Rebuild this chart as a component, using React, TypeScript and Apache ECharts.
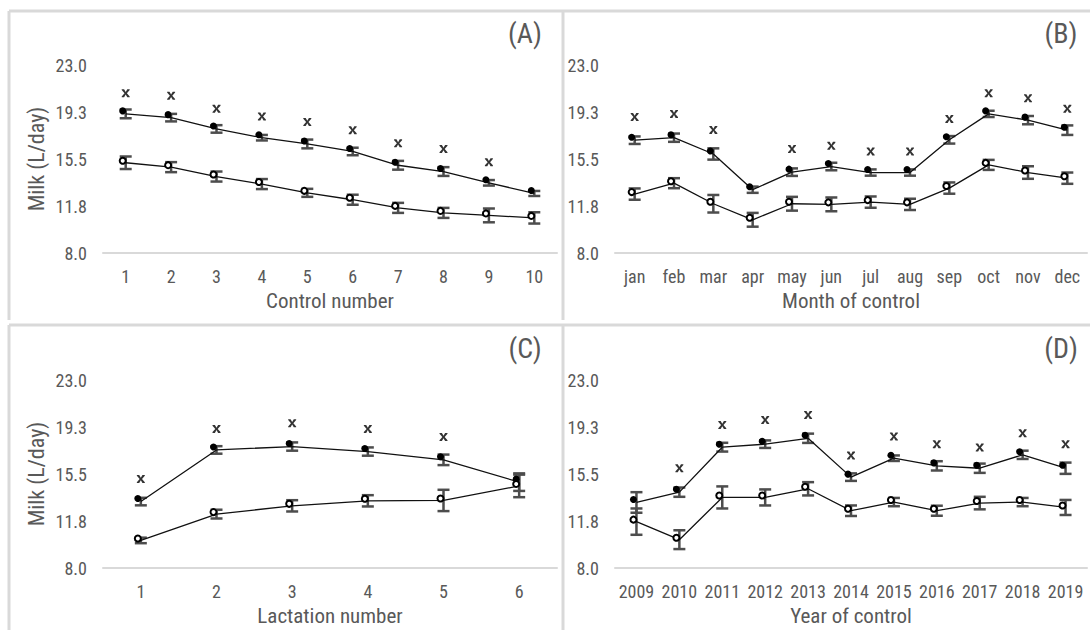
import React, { useEffect, useRef } from "react";
import * as echarts from "echarts";

// ---------- data ----------
const controlCats = ["1", "2", "3", "4", "5", "6", "7", "8", "9", "10"];
const aFilled = [19.1, 18.8, 17.9, 17.2, 16.7, 16.1, 15.0, 14.5, 13.6, 12.75];
const aFilledErr = [0.35, 0.3, 0.3, 0.22, 0.35, 0.3, 0.35, 0.35, 0.22, 0.2];
const aOpen = [15.2, 14.85, 14.1, 13.5, 12.8, 12.25, 11.6, 11.2, 11.0, 10.8];
const aOpenErr = [0.5, 0.4, 0.4, 0.4, 0.32, 0.4, 0.4, 0.4, 0.55, 0.45];
const aCross = [20.75, 20.55, 19.5, 18.9, 18.45, 17.8, 16.75, 16.3, 15.25, null];

const monthCats = ["jan", "feb", "mar", "apr", "may", "jun", "jul", "aug", "sep", "oct", "nov", "dec"];
const bFilled = [17.0, 17.2, 15.9, 13.05, 14.45, 14.9, 14.42, 14.42, 17.03, 19.1, 18.6, 17.8];
const bFilledErr = [0.3, 0.33, 0.45, 0.25, 0.3, 0.3, 0.25, 0.25, 0.3, 0.25, 0.33, 0.38];
const bOpen = [12.7, 13.57, 11.93, 10.65, 11.93, 11.88, 12.06, 11.88, 13.18, 15.03, 14.42, 13.97];
const bOpenErr = [0.45, 0.4, 0.7, 0.55, 0.55, 0.55, 0.45, 0.45, 0.45, 0.4, 0.5, 0.45];
const bCross = [18.85, 19.1, 17.82, null, 16.3, 16.55, 16.1, 16.1, 18.7, 20.75, 20.35, 19.5];

const lactCats = ["1", "2", "3", "4", "5", "6"];
const cFilled = [13.3, 17.42, 17.69, 17.29, 16.63, 14.85];
const cFilledErr = [0.3, 0.3, 0.33, 0.33, 0.42, 0.7];
const cOpen = [10.2, 12.3, 12.96, 13.36, 13.39, 14.55];
const cOpenErr = [0.22, 0.35, 0.45, 0.45, 0.85, 0.9];
const cCross = [15.1, 19.1, 19.55, 19.1, 18.45, null];

const yearCats = ["2009", "2010", "2011", "2012", "2013", "2014", "2015", "2016", "2017", "2018", "2019"];
const dFilled = [13.23, 14.05, 17.64, 17.88, 18.35, 15.25, 16.76, 16.15, 15.96, 17.03, 15.96];
const dFilledErr = [0.82, 0.37, 0.35, 0.3, 0.37, 0.3, 0.22, 0.37, 0.37, 0.33, 0.45];
const dOpen = [11.7, 10.26, 13.63, 13.63, 14.32, 12.57, 13.26, 12.57, 13.18, 13.26, 12.83];
const dOpenErr = [1.05, 0.75, 0.88, 0.64, 0.53, 0.42, 0.33, 0.4, 0.5, 0.33, 0.6];
const dCross = [null, 15.96, 19.41, 19.81, 20.21, 16.97, 18.49, 17.88, 17.61, 18.75, 17.88];

const yMin = 8;
const yMax = 23;
const yStep = 3.75;
const yTickLabels = ["8.0", "11.8", "15.5", "19.3", "23.0"];

const panelLabels = ["(A)", "(B)", "(C)", "(D)"];
const xTitles = ["Control number", "Month of control", "Lactation number", "Year of control"];
const yTitle = "Milk (L/day)";

// ---------- styling ----------
const FONT = '"Liberation Sans Narrow", "Roboto Condensed", "Arial Narrow", Roboto, sans-serif';
const TXT = "#595959";
const BORDER = "#d9d9d9";
const ERR = "#4d4d4d";
const crossPath =
  "path://M0,0H3L5,3.5L7,0H10V1L6.5,5L10,9V10H7L5,6.5L3,10H0V9L3.5,5L0,1Z";

const grids = [
  { left: 103, top: 65, width: 454, height: 188 },
  { left: 615, top: 65, width: 472, height: 188 },
  { left: 103, top: 380, width: 454, height: 188 },
  { left: 615, top: 380, width: 472, height: 188 },
];

const panels = [
  { cats: controlCats, f: aFilled, fe: aFilledErr, o: aOpen, oe: aOpenErr, x: aCross },
  { cats: monthCats, f: bFilled, fe: bFilledErr, o: bOpen, oe: bOpenErr, x: bCross },
  { cats: lactCats, f: cFilled, fe: cFilledErr, o: cOpen, oe: cOpenErr, x: cCross },
  { cats: yearCats, f: dFilled, fe: dFilledErr, o: dOpen, oe: dOpenErr, x: dCross },
];

function errRender(params: any, api: any) {
  const idx = api.value(0);
  const lo = api.coord([idx, api.value(1)]);
  const hi = api.coord([idx, api.value(2)]);
  const cx = lo[0];
  const hw = 6;
  const style = { stroke: ERR, lineWidth: 2.5 };
  return {
    type: "group",
    children: [
      { type: "line", shape: { x1: cx, y1: hi[1], x2: cx, y2: lo[1] }, style },
      { type: "line", shape: { x1: cx - hw, y1: hi[1], x2: cx + hw, y2: hi[1] }, style },
      { type: "line", shape: { x1: cx - hw, y1: lo[1], x2: cx + hw, y2: lo[1] }, style },
    ],
  };
}

function buildOption() {
  const xAxis: any[] = [];
  const yAxis: any[] = [];
  const series: any[] = [];
  panels.forEach((p, i) => {
    xAxis.push({
      type: "category",
      gridIndex: i,
      data: p.cats,
      boundaryGap: true,
      axisLine: { lineStyle: { color: BORDER, width: 2 } },
      axisTick: { show: false },
      axisLabel: { color: TXT, fontFamily: FONT, fontSize: 18, margin: 14, interval: 0 },
      name: xTitles[i],
      nameLocation: "middle",
      nameGap: 37,
      nameTextStyle: { color: TXT, fontFamily: FONT, fontSize: 21 },
    });
    yAxis.push({
      type: "value",
      gridIndex: i,
      min: yMin,
      max: yMax,
      interval: yStep,
      axisLine: { show: false },
      axisTick: { show: false },
      splitLine: { show: false },
      axisLabel: {
        color: TXT,
        fontFamily: FONT,
        fontSize: 18,
        margin: 16,
        formatter: (v: number) => yTickLabels[Math.round((v - yMin) / yStep)] ?? "",
      },
      name: i % 2 === 0 ? yTitle : "",
      nameLocation: "middle",
      nameRotate: 90,
      nameGap: 56,
      nameTextStyle: { color: TXT, fontFamily: FONT, fontSize: 22 },
    });
    series.push({
      type: "custom",
      xAxisIndex: i,
      yAxisIndex: i,
      renderItem: errRender,
      encode: { x: 0, y: [1, 2] },
      data: p.f.map((v, k) => [k, v - p.fe[k], v + p.fe[k]]),
      z: 1,
      silent: true,
    });
    series.push({
      type: "custom",
      xAxisIndex: i,
      yAxisIndex: i,
      renderItem: errRender,
      encode: { x: 0, y: [1, 2] },
      data: p.o.map((v, k) => [k, v - p.oe[k], v + p.oe[k]]),
      z: 1,
      silent: true,
    });
    series.push({
      type: "line",
      xAxisIndex: i,
      yAxisIndex: i,
      data: p.f,
      symbol: "circle",
      symbolSize: 7,
      symbolOffset: [-3, -3],
      lineStyle: { color: "#111", width: 1.3 },
      itemStyle: { color: "#000" },
      z: 3,
    });
    series.push({
      type: "line",
      xAxisIndex: i,
      yAxisIndex: i,
      data: p.o,
      symbol: "emptyCircle",
      symbolSize: 6,
      symbolOffset: [-3, -2],
      lineStyle: { color: "#111", width: 1.3 },
      itemStyle: { color: "#000", borderWidth: 1.2 },
      z: 3,
    });
    series.push({
      type: "scatter",
      xAxisIndex: i,
      yAxisIndex: i,
      data: p.x,
      symbol: crossPath,
      symbolSize: [8, 8],
      itemStyle: { color: "#000" },
      z: 3,
    });
  });

  const lineStyle = { stroke: BORDER, lineWidth: 3 };
  const graphic: any[] = [
    { type: "line", shape: { x1: 9, y1: 11, x2: 1090, y2: 11 }, style: lineStyle },
    { type: "line", shape: { x1: 9, y1: 11, x2: 9, y2: 320 }, style: lineStyle },
    { type: "line", shape: { x1: 563, y1: 11, x2: 563, y2: 320 }, style: lineStyle },
    { type: "line", shape: { x1: 9, y1: 325, x2: 1090, y2: 325 }, style: lineStyle },
    { type: "line", shape: { x1: 9, y1: 325, x2: 9, y2: 630 }, style: lineStyle },
    { type: "line", shape: { x1: 563, y1: 325, x2: 563, y2: 630 }, style: lineStyle },
  ];
  const labelPos = [
    [525, 33],
    [1061, 33],
    [525, 348],
    [1061, 348],
  ];
  panelLabels.forEach((t, i) => {
    graphic.push({
      type: "text",
      x: labelPos[i][0],
      y: labelPos[i][1],
      style: {
        text: t,
        fill: TXT,
        font: `28px ${FONT}`,
        textAlign: "center",
        textVerticalAlign: "middle",
      },
    });
  });

  return {
    animation: false,
    backgroundColor: "#fff",
    grid: grids,
    xAxis,
    yAxis,
    series,
    graphic,
  };
}

export default function App() {
  const ref = useRef<HTMLDivElement>(null);
  useEffect(() => {
    if (!ref.current) return;
    const chart = echarts.init(ref.current, undefined, { renderer: "svg" });
    chart.setOption(buildOption() as any);
    return () => chart.dispose();
  }, []);
  return (
    <div
      ref={ref}
      style={{ position: "fixed", left: 0, top: 0, width: 1090, height: 630, background: "#fff" }}
    />
  );
}
